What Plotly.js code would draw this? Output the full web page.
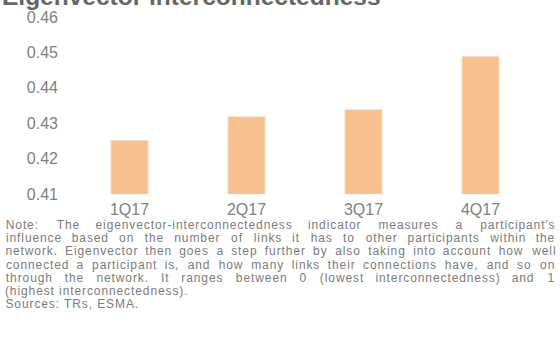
<!DOCTYPE html>
<html>
<head>
<meta charset="utf-8">
<script src="https://cdn.plot.ly/plotly-3.0.1.min.js"></script>
<style>
html,body{margin:0;padding:0;background:#fff;}
#chart{width:560px;height:338px;}
#chart .annotation-text.note{letter-spacing:0.9px;}
</style>
</head>
<body>
<div id="chart"></div>
<script>
// ---- data ----
const categories = ["1Q17", "2Q17", "3Q17", "4Q17"];
const eigenvectorValues = [0.4251, 0.4318, 0.4338, 0.4488];
const yTickValues = [0.41, 0.42, 0.43, 0.44, 0.45, 0.46];
const yTickLabels = ["0.41", "0.42", "0.43", "0.44", "0.45", "0.46"];
const titleText = "Eigenvector interconnectedness";
const noteLines = [
  "Note: The eigenvector-interconnectedness indicator measures a participant's",
  "influence based on the number of links it has to other participants within the",
  "network. Eigenvector then goes a step further by also taking into account how well",
  "connected a participant is, and how many links their connections have, and so on",
  "through the network. It ranges between 0 (lowest interconnectedness) and 1",
  "(highest interconnectedness).",
  "Sources: TRs, ESMA."
];
const justifiedLines = [true, true, true, true, true, false, false];

// ---- layout geometry (pixels) ----
const W = 560, H = 338;
const M = {l: 71, r: 21, t: 17, b: 144};
const PW = W - M.l - M.r, PH = H - M.t - M.b;
const FONT = "Liberation Sans, Arial, sans-serif";
const noteSize = 12;
const letterSp = 0.8;
const noteColor = "#7b7b7b";
const noteLeft = 5, noteRight = 553;
const noteTop = 225, noteStep = 13.2;

function px2x(px){ return (px - M.l) / PW; }
function py2y(py){ return (H - M.b - py) / PH; }

const cv = document.createElement('canvas').getContext('2d');
cv.font = noteSize + "px 'Liberation Sans'";
function wordWidth(w){ return cv.measureText(w).width + (w.length - 1) * letterSp; }

const annotations = [];
annotations.push({
  text: "<b>" + titleText + "</b>", xref: 'paper', yref: 'paper',
  x: px2x(1), y: py2y(-3), xanchor: 'left', yanchor: 'middle',
  showarrow: false, borderpad: 0,
  font: {family: FONT, size: 24.5, color: '#666666'}
});
const noteIdx = [];
function noteAnn(text, xpx, ypx){
  // letter-spacing is applied after Plotly centres the text in its box,
  // so shift the box to keep the visible left edge at xpx
  noteIdx.push(annotations.length);
  annotations.push({
    text: text, xref: 'paper', yref: 'paper',
    x: px2x(xpx + text.length * letterSp / 2), y: py2y(ypx),
    xanchor: 'left', yanchor: 'middle', showarrow: false, borderpad: 0,
    font: {family: FONT, size: noteSize, color: noteColor}
  });
}
noteLines.forEach((line, i) => {
  const ypx = noteTop + i * noteStep;
  if (justifiedLines[i]) {
    const words = line.split(' ');
    const widths = words.map(wordWidth);
    const total = widths.reduce((a, b) => a + b, 0);
    const gap = (noteRight - noteLeft - total) / (words.length - 1);
    let x = noteLeft;
    words.forEach((w, j) => {
      noteAnn(w, x, ypx);
      x += widths[j] + gap;
    });
  } else {
    noteAnn(line, noteLeft, ypx);
  }
});

const trace = {
  type: 'bar', x: categories, y: eigenvectorValues,
  marker: {color: '#f9c08f', line: {color: '#fcd8b8', width: 1}},
  hoverinfo: 'skip'
};

const layout = {
  width: W, height: H, margin: M,
  paper_bgcolor: '#fff', plot_bgcolor: '#fff',
  showlegend: false, bargap: 0.684,
  font: {family: FONT, color: '#808080'},
  xaxis: {showgrid: false, zeroline: false, showline: false, ticks: '',
          tickfont: {family: FONT, size: 16, color: '#808080'}, ticklabelstandoff: 4},
  yaxis: {range: [0.41, 0.46], tickvals: yTickValues, ticktext: yTickLabels,
          showgrid: false, zeroline: false, showline: false, ticks: '',
          tickfont: {family: FONT, size: 16, color: '#808080'}, ticklabelstandoff: 12},
  annotations: annotations
};

Plotly.newPlot('chart', [trace], layout, {staticPlot: true, displayModeBar: false}).then(gd => {
  const nodes = gd.querySelectorAll('.annotation');
  const set = new Set(noteIdx);
  nodes.forEach((n, k) => {
    if (set.has(k)) {
      const t = n.querySelector('.annotation-text');
      if (t) t.classList.add('note');
    }
  });
});
</script>
</body>
</html>
